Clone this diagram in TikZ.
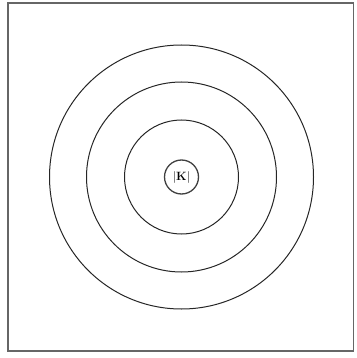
\documentclass[tikz,border=0pt]{standalone}
\begin{document}
\begin{tikzpicture}[x=1pt,y=-1pt,
  ring/.style={draw=black!85, line width=1pt},
  frame/.style={draw=black!60, line width=1.5pt}]
\useasboundingbox (0,0) rectangle (356,358);
\draw[frame] (8,3) rectangle (353.5,351);
\coordinate (c) at (181.5,177);
\draw[ring] (c) circle (132);
\draw[ring] (c) circle (95);
\draw[ring] (c) circle (57);
\node[ring, line width=1.3pt, draw=black!75, circle, minimum size=34pt, inner sep=0pt] (k) at (c) {\large$|\mathbf{K}|$};
\end{tikzpicture}
\end{document}
